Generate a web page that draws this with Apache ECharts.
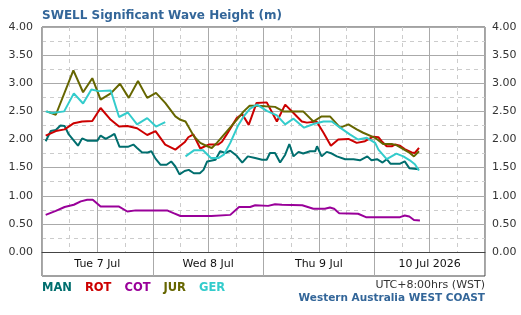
<!DOCTYPE html>
<html>
<head>
<meta charset="utf-8">
<script src="https://cdn.jsdelivr.net/npm/echarts@6/dist/echarts.min.js"></script>
<style>
  html, body { margin: 0; padding: 0; background: #fff; }
  #chart { width: 521px; height: 315px; }
</style>
</head>
<body>
<div id="chart"></div>
<script>
// hours from Tue 7 Jul 00:00 (WST), value in metres
var dayLabels = ['Tue 7 Jul', 'Wed 8 Jul', 'Thu 9 Jul', '10 Jul 2026'];
var stationNames = ['MAN', 'ROT', 'COT', 'JUR', 'GER'];
var stationColors = ['#006e6e', '#cc0000', '#990099', '#666600', '#33cccc'];

var MAN = [
  [0.8, 1.97], [1.9, 2.15], [3.0, 2.17], [4.0, 2.25], [4.9, 2.24], [5.8, 2.09], [7.8, 1.89],
  [8.7, 2.02], [9.8, 1.98], [12.0, 1.98], [12.7, 2.07], [13.8, 2.01], [14.9, 2.06], [15.7, 2.10],
  [16.8, 1.87], [18.6, 1.87], [19.8, 1.91], [20.6, 1.85], [21.7, 1.77], [22.9, 1.77], [23.7, 1.79],
  [24.6, 1.66], [25.7, 1.55], [27.0, 1.55], [28.0, 1.61], [28.9, 1.52], [29.8, 1.38], [30.9, 1.44],
  [31.8, 1.46], [32.9, 1.40], [34.2, 1.40], [35.0, 1.46], [35.8, 1.61], [37.6, 1.64], [38.6, 1.79],
  [39.7, 1.76], [40.8, 1.80], [42.2, 1.71], [43.4, 1.59], [44.6, 1.70], [46.2, 1.67], [47.7, 1.64],
  [48.7, 1.64], [49.4, 1.76], [50.5, 1.76], [51.6, 1.59], [52.7, 1.73], [53.6, 1.92], [54.5, 1.70],
  [55.6, 1.78], [56.6, 1.75], [58.1, 1.79], [59.2, 1.79], [59.6, 1.88], [60.6, 1.70], [61.7, 1.78],
  [62.8, 1.75], [63.9, 1.70], [65.7, 1.65], [67.5, 1.65], [68.9, 1.63], [70.5, 1.70], [71.4, 1.63],
  [72.6, 1.65], [73.8, 1.59], [74.7, 1.65], [75.5, 1.57], [77.6, 1.57], [78.6, 1.61], [79.6, 1.49],
  [81.7, 1.47]
];

var ROT = [
  [0.8, 2.07], [3.0, 2.15], [4.9, 2.18], [6.9, 2.29], [8.7, 2.32], [10.9, 2.33], [12.7, 2.56],
  [14.9, 2.35], [16.7, 2.23], [18.5, 2.24], [20.6, 2.20], [22.8, 2.08], [24.6, 2.15], [26.7, 1.91],
  [28.9, 1.82], [30.9, 1.95], [31.7, 2.04], [32.8, 2.09], [34.3, 1.84], [36.1, 1.91], [38.2, 1.91],
  [39.0, 1.96], [40.1, 2.10], [42.2, 2.38], [43.4, 2.45], [44.8, 2.26], [46.5, 2.65], [48.7, 2.66],
  [50.9, 2.32], [52.7, 2.62], [54.5, 2.47], [56.3, 2.32], [57.4, 2.30], [59.5, 2.32], [61.0, 2.12],
  [62.6, 1.89], [64.2, 2.00], [66.4, 2.01], [68.2, 1.94], [70.0, 1.97], [71.8, 2.05], [72.9, 2.04],
  [73.6, 1.97], [74.7, 1.88], [75.8, 1.88], [76.5, 1.91], [77.6, 1.89], [78.6, 1.83], [80.1, 1.77],
  [80.8, 1.76], [81.7, 1.85]
];

var COT = [
  [0.8, 0.66], [3.0, 0.73], [4.9, 0.80], [6.9, 0.84], [8.4, 0.90], [9.8, 0.93], [11.0, 0.93],
  [12.7, 0.81], [16.6, 0.81], [18.5, 0.72], [20.3, 0.74], [27.1, 0.74], [28.5, 0.69], [30.0, 0.64],
  [36.7, 0.64], [40.8, 0.66], [42.7, 0.80], [45.1, 0.80], [46.2, 0.83], [49.0, 0.82], [50.5, 0.85],
  [52.0, 0.84], [56.4, 0.83], [58.8, 0.77], [61.3, 0.77], [62.4, 0.79], [63.3, 0.77], [64.4, 0.69],
  [68.5, 0.68], [70.2, 0.62], [77.6, 0.62], [78.6, 0.65], [79.6, 0.63], [80.6, 0.57], [81.9, 0.56]
];

var JUR = [
  [1.0, 2.50], [3.0, 2.44], [6.8, 3.23], [8.9, 2.84], [10.9, 3.09], [12.7, 2.71], [14.9, 2.82],
  [16.9, 2.99], [18.8, 2.74], [20.8, 3.04], [22.8, 2.74], [24.7, 2.83], [26.7, 2.65], [28.9, 2.41],
  [30.0, 2.35], [31.1, 2.32], [32.9, 2.06], [34.3, 1.94], [35.8, 1.88], [36.8, 1.85], [37.9, 1.94],
  [40.1, 2.15], [42.2, 2.35], [43.7, 2.50], [45.0, 2.60], [46.6, 2.60], [48.4, 2.59], [50.5, 2.58],
  [52.3, 2.50], [56.6, 2.50], [58.8, 2.32], [60.6, 2.41], [62.4, 2.41], [64.6, 2.21], [66.4, 2.27],
  [68.2, 2.18], [69.6, 2.12], [72.2, 2.03], [73.9, 1.92], [75.8, 1.92], [76.8, 1.90], [78.3, 1.83],
  [79.7, 1.76], [80.6, 1.70], [81.7, 1.79]
];

// GER has a gap in its record on the night of the 7th
var GER_1 = [
  [0.8, 2.50], [2.2, 2.47], [4.8, 2.50], [6.9, 2.82], [8.9, 2.64], [10.7, 2.89], [12.3, 2.86],
  [14.9, 2.87], [16.7, 2.40], [18.6, 2.48], [20.6, 2.27], [22.8, 2.38], [24.7, 2.23], [26.7, 2.31]
];
var GER_2 = [
  [31.1, 1.70], [33.0, 1.81], [34.9, 1.81], [36.6, 1.67], [38.2, 1.67], [39.4, 1.73], [40.8, 1.94],
  [42.5, 2.25], [43.7, 2.41], [45.1, 2.55], [46.6, 2.62], [48.7, 2.51], [50.9, 2.43], [52.7, 2.27],
  [54.5, 2.37], [56.8, 2.21], [59.0, 2.28], [61.0, 2.32], [62.8, 2.32], [64.6, 2.21], [66.7, 2.09],
  [68.5, 2.00], [70.4, 2.03], [72.2, 1.94], [72.9, 1.82], [74.7, 1.65], [76.8, 1.75], [78.3, 1.70],
  [79.7, 1.63], [80.8, 1.56], [81.7, 1.45]
];
var GER = GER_1.concat([[29.0, '-']], GER_2);

var seriesData = [MAN, ROT, COT, JUR, GER];

var chart = echarts.init(document.getElementById('chart'), null, { renderer: 'canvas' });

var font = 'DejaVu Sans';
var solidGray = '#aaaaaa';
var dashGray = '#cccccc';
var frameColor = '#444444';

var option = {
  animation: false,
  backgroundColor: '#ffffff',
  title: [{
    text: 'SWELL Significant Wave Height (m)',
    left: 42,
    top: 10,
    padding: 0,
    textStyle: { fontFamily: font, fontSize: 12, fontWeight: 'bold', color: '#336699' }
  }, {
    text: 'UTC+8:00hrs (WST)',
    right: 36,
    top: 280,
    padding: 0,
    textStyle: { fontFamily: font, fontSize: 11, fontWeight: 'normal', color: '#333333' }
  }, {
    text: 'Western Australia WEST COAST',
    right: 36,
    top: 293,
    padding: 0,
    textStyle: { fontFamily: font, fontSize: 10.5, fontWeight: 'bold', color: '#336699' }
  }],
  legend: {
    left: 37,
    top: 282,
    padding: 0,
    icon: 'none',
    itemWidth: 0,
    itemHeight: 0,
    itemGap: 8,
    selectedMode: false,
    data: stationNames.map(function (n, i) {
      return { name: n, textStyle: { color: stationColors[i] } };
    }),
    textStyle: { fontFamily: font, fontSize: 11.5, fontWeight: 'bold' }
  },
  grid: [
    { left: 42, right: 36, top: 27, bottom: 63 },
    { left: 42, right: 36, top: 27, bottom: 39, show: true, borderColor: frameColor, borderWidth: 1, backgroundColor: 'transparent' }
  ],
  xAxis: [{
    gridIndex: 0,
    type: 'value',
    min: 0,
    max: 96,
    interval: 12,
    axisLine: { show: true, lineStyle: { color: frameColor, width: 1 } },
    axisTick: { show: false },
    axisLabel: {
      margin: 7,
      fontFamily: font,
      fontSize: 11,
      color: '#111111',
      showMinLabel: true,
      showMaxLabel: true,
      formatter: function (v) {
        if (v % 24 === 12) return dayLabels[(v - 12) / 24];
        return '';
      }
    },
    splitLine: { show: true, lineStyle: { color: solidGray, width: 1 } },
    minorTick: { show: false, splitNumber: 2 },
    minorSplitLine: { show: true, lineStyle: { color: dashGray, width: 1, type: [4, 4] } }
  }, {
    gridIndex: 1,
    type: 'value',
    min: 0,
    max: 96,
    interval: 24,
    axisLine: { show: false },
    axisTick: { show: false },
    axisLabel: { show: false },
    splitLine: { show: true, lineStyle: { color: solidGray, width: 1 } }
  }],
  yAxis: [{
    gridIndex: 0,
    type: 'value',
    position: 'left',
    min: 0,
    max: 4,
    interval: 0.5,
    axisLine: { show: false },
    axisTick: { show: false },
    axisLabel: {
      margin: 9,
      fontFamily: font,
      fontSize: 11,
      color: '#333333',
      formatter: function (v) { return v.toFixed(2); }
    },
    splitLine: { show: true, lineStyle: { color: solidGray, width: 1 } },
    minorTick: { show: false, splitNumber: 2 },
    minorSplitLine: { show: true, lineStyle: { color: dashGray, width: 1, type: [4, 4] } }
  }, {
    gridIndex: 0,
    type: 'value',
    position: 'right',
    min: 0,
    max: 4,
    interval: 0.5,
    axisLine: { show: false },
    axisTick: { show: false },
    axisLabel: {
      margin: 7,
      fontFamily: font,
      fontSize: 11,
      color: '#333333',
      formatter: function (v) { return v.toFixed(2); }
    },
    splitLine: { show: false }
  }, {
    gridIndex: 1,
    type: 'value',
    show: false,
    min: 0,
    max: 1,
    splitLine: { show: false }
  }],
  series: stationNames.map(function (n, i) {
    return {
      name: n,
      type: 'line',
      xAxisIndex: 0,
      yAxisIndex: 0,
      data: seriesData[i],
      showSymbol: false,
      symbol: 'none',
      connectNulls: false,
      color: stationColors[i],
      lineStyle: { color: stationColors[i], width: 2 },
      z: 3 + i
    };
  })
};

chart.setOption(option);
</script>
</body>
</html>
